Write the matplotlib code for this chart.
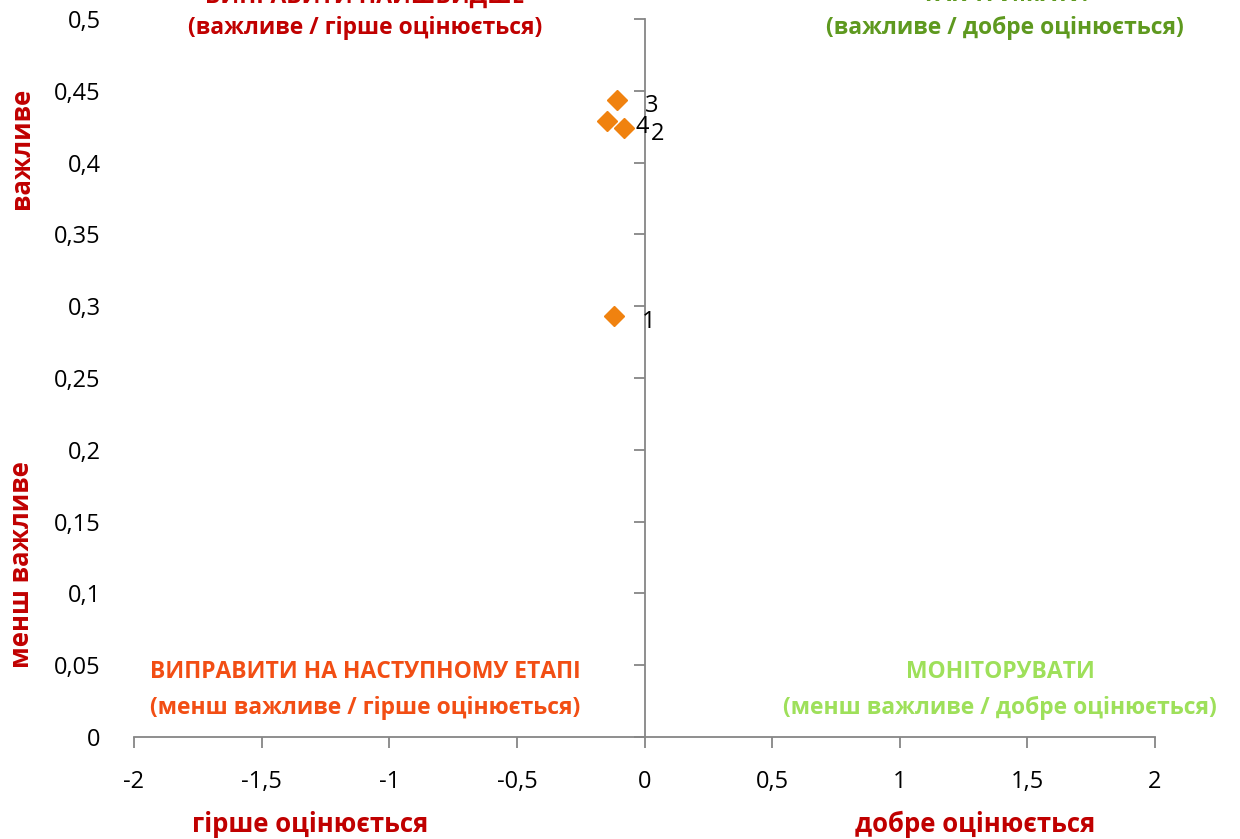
import matplotlib
matplotlib.use("Agg")
import matplotlib.pyplot as plt

# data
labels = ["1", "2", "3", "4"]
x_vals = [-0.121, -0.082, -0.106, -0.145]
y_vals = [0.293, 0.424, 0.4436, 0.429]

x_ticks = [-2, -1.5, -1, -0.5, 0, 0.5, 1, 1.5, 2]
x_ticklabels = ["-2", "-1,5", "-1", "-0,5", "0", "0,5", "1", "1,5", "2"]
y_ticks = [0, 0.05, 0.1, 0.15, 0.2, 0.25, 0.3, 0.35, 0.4, 0.45, 0.5]
y_ticklabels = ["0", "0,05", "0,1", "0,15", "0,2", "0,25", "0,3", "0,35", "0,4", "0,45", "0,5"]

quadrant_titles = ["ВИПРАВИТИ НАЙШВИДШЕ", "ТАК ТРИМАТИ",
                   "ВИПРАВИТИ НА НАСТУПНОМУ ЕТАПІ", "МОНІТОРУВАТИ"]
quadrant_subtitles = ["(важливе / гірше оцінюється)", "(важливе / добре оцінюється)",
                      "(менш важливе / гірше оцінюється)", "(менш важливе / добре оцінюється)"]

FONT = ["Open Sans", "DejaVu Sans"]
plt.rcParams['font.family'] = FONT

AX_GRAY = "#868686"
DARK_RED = "#C00000"
ORANGE_RED = "#F24E14"
GREEN = "#5E991F"
LIGHT_GREEN = "#9EE05A"
MARK = "#F0820F"

fig = plt.figure(figsize=(12.4, 8.39), dpi=100)
ax = fig.add_axes([134/1240, 102/839, 1021/1240, 718/839])
ax.set_xlim(-2, 2)
ax.set_ylim(0, 0.5)

for s in ["top", "right"]:
    ax.spines[s].set_visible(False)
ax.spines["bottom"].set_color(AX_GRAY)
ax.spines["bottom"].set_linewidth(1.3)
ax.spines["left"].set_position(("data", 0))
ax.spines["left"].set_color(AX_GRAY)
ax.spines["left"].set_linewidth(1.3)

ax.set_xticks(x_ticks)
ax.set_xticklabels(x_ticklabels)
ax.tick_params(axis="x", direction="out", length=8, width=1.3, color=AX_GRAY,
               pad=16, labelsize=17, labelcolor="black")

ax.set_yticks(y_ticks)
ax.set_yticklabels([])
ax.tick_params(axis="y", direction="out", length=8, width=1.3, color=AX_GRAY)

sec = ax.secondary_yaxis(0.0)
sec.set_yticks(y_ticks)
sec.set_yticklabels(y_ticklabels)
for sp in sec.spines.values():
    sp.set_visible(False)
sec.tick_params(axis="y", length=0, pad=24, labelsize=17, labelcolor="black")

ax.plot(x_vals, y_vals, linestyle="none", marker="D", markersize=10,
        color=MARK, markeredgecolor=MARK, clip_on=False, zorder=3)
for xv, yv, lb in zip(x_vals, y_vals, labels):
    ax.annotate(lb, (xv, yv), xytext=(20, -4), textcoords="offset points",
                ha="left", va="center", fontsize=17, color="black")

# quadrant texts
kw = dict(ha="center", va="center", fontweight="bold", fontsize=16.5)
q_colors = [DARK_RED, GREEN, ORANGE_RED, LIGHT_GREEN]
q_x = [365, 1005, 365, 1000]
q_y1 = [-5, -5, 672, 672]
q_y2 = [28, 28, 708, 708]
for t, st, c, xx, y1, y2 in zip(quadrant_titles, quadrant_subtitles, q_colors, q_x, q_y1, q_y2):
    fig.text(xx/1240, 1 - y1/839, t, color=c, **kw)
    fig.text(xx/1240, 1 - y2/839, st, color=c, **kw)

# axis titles
tkw = dict(ha="center", va="center", fontweight="bold", fontsize=18.5, color=DARK_RED)
fig.text(22/1240, 1 - 148/839, "важливе", rotation=90, **tkw)
fig.text(22/1240, 1 - 565/839, "менш важливе", rotation=90, **tkw)
fig.text(310/1240, 1 - 824/839, "гірше оцінюється", **tkw)
fig.text(975/1240, 1 - 824/839, "добре оцінюється", **tkw)

fig.savefig("out.png", dpi=100)
